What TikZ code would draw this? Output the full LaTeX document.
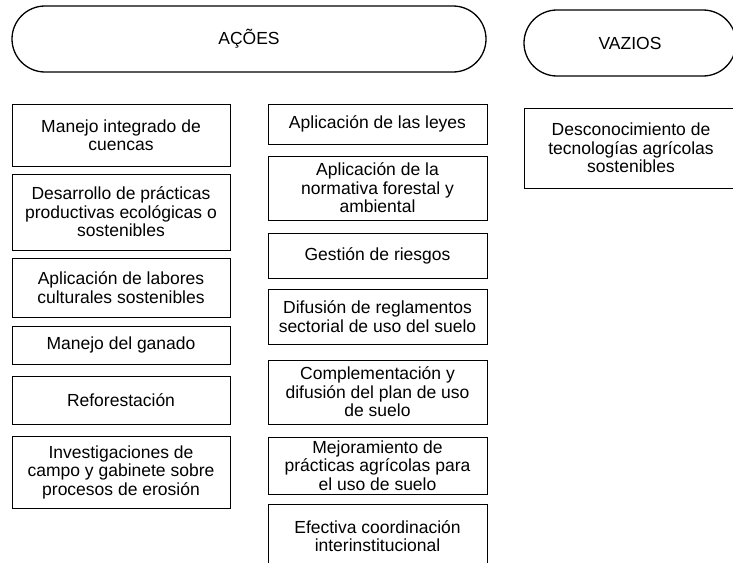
\documentclass[tikz,border=0pt]{standalone}
\usepackage{fontspec}
\setmainfont{Liberation Sans}
\begin{document}
\begin{tikzpicture}[x=1pt,y=-1pt,
  every node/.style={font=\fontsize{17.5}{18.5}\selectfont, align=center, inner sep=0pt},
  pill/.style={draw, line width=1.3pt, rounded corners=33pt, minimum height=66pt},
  abox/.style={draw, line width=1pt, minimum width=218pt}]
\useasboundingbox (0,0) rectangle (733,562);
\clip (0,0) rectangle (733,562);
% headers
\node[pill, minimum width=474pt] (acoes) at (249,39) {AÇÕES};
\node[pill, minimum width=212pt] (vazios) at (630,43) {VAZIOS};
% column 1
\node[abox, minimum height=62pt] (a1) at (121,135) {Manejo integrado de\\cuencas};
\node[abox, minimum height=76pt] (a2) at (121,212) {Desarrollo de prácticas\\productivas ecológicas o\\sostenibles};
\node[abox, minimum height=59pt] (a3) at (121,287.5) {Aplicación de labores\\culturales sostenibles};
\node[abox, minimum height=38pt] (a4) at (121,345) {Manejo del ganado};
\node[abox, minimum height=48pt] (a5) at (121,400) {Reforestación};
\node[abox, minimum height=72pt] (a6) at (121,472) {Investigaciones de\\campo y gabinete sobre\\procesos de erosión};
% column 2
\node[abox, minimum width=219pt, minimum height=40pt] (b1) at (377.5,124) {Aplicación de las leyes};
\node[abox, minimum width=219pt, minimum height=64pt] (b2) at (377.5,188) {Aplicación de la\\normativa forestal y\\ambiental};
\node[abox, minimum width=219pt, minimum height=45pt] (b3) at (377.5,255.5) {Gestión de riesgos};
\node[abox, minimum width=219pt, minimum height=55pt] (b4) at (377.5,316.5) {Difusión de reglamentos\\sectorial de uso del suelo};
\node[abox, minimum width=219pt, minimum height=64pt] (b5) at (377.5,392) {Complementación y\\difusión del plan de uso\\de suelo};
\node[abox, minimum width=219pt, minimum height=57pt] (b6) at (377.5,465.5) {Mejoramiento de\\prácticas agrícolas para\\el uso de suelo};
\node[abox, minimum width=219pt, minimum height=64pt] (b7) at (377.5,536) {Efectiva coordinación\\interinstitucional};
% column 3
\node[abox, minimum width=214pt, minimum height=80pt] (c1) at (631,148) {Desconocimiento de\\tecnologías agrícolas\\sostenibles};
\end{tikzpicture}
\end{document}
